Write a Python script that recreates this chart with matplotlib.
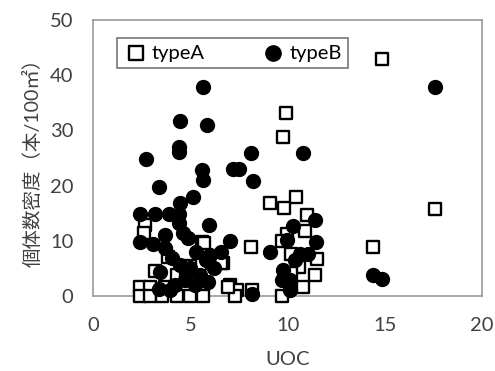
import matplotlib
matplotlib.use("Agg")
from matplotlib import pyplot as plt

plt.rcParams['font.family'] = ['Lato', 'Noto Sans CJK JP', 'DejaVu Sans']

# typeA (open squares)
a_x = [14.84, 17.6, 14.4, 9.9, 9.78, 9.07, 10.44, 9.84, 11.02, 10.9, 9.96, 9.7, 8.1,
       6.7, 11.5, 11.4, 10.8, 9.7, 7.04, 7.4, 8.16, 7.3, 10.2, 10.6, 10.2,
       2.67, 5.59, 3.87, 6.1, 6.6, 4.3, 2.42, 2.93, 3.7, 4.22, 4.82, 5.5,
       2.42, 2.93, 3.53, 4.3, 4.99, 5.67, 6.96, 5.7, 2.6, 4.8, 3.2, 5.0]
a_y = [43, 15.8, 8.8, 33.1, 28.9, 16.8, 17.9, 15.9, 14.7, 11.8, 11.2, 10.0, 8.8,
       5.9, 6.8, 3.8, 1.7, 0, 2.0, 1.1, 1.1, 0, 7.7, 5.3, 4.1,
       12.9, 9.8, 7.1, 5.9, 6.0, 3.8, 1.7, 1.7, 1.7, 1.7, 1.7, 1.7,
       0, 0, 0, 0, 0, 0, 1.7, 9.6, 11.5, 3, 4.5, 5.5]

# typeB (filled circles)
b_x = [5.64, 4.47, 5.85, 4.44, 4.44, 2.71, 5.62, 5.67, 7.2, 7.5, 3.41, 5.16, 4.47,
       2.42, 3.19, 3.91, 4.44, 5.98, 4.44, 2.42, 3.1, 6.6, 8.1, 10.8, 8.2, 7.04,
       9.07, 10.3, 11.4, 11.47, 9.96, 10.64, 11.07, 10.4, 9.78, 9.7, 10.1, 10.1,
       8.16, 17.6, 14.4, 14.84,
       3.7, 4.06, 4.47, 5.0, 3.44, 5.5, 5.24, 3.96, 4.73, 6.0, 6.2,
       4.9, 5.3, 4.6, 3.7, 5.8, 4.2, 3.4, 5.9]
b_y = [37.9, 31.8, 30.9, 27.0, 26.1, 24.8, 22.8, 21.0, 23.0, 23.0, 19.8, 17.9, 16.8,
       14.8, 14.8, 14.8, 14.8, 12.9, 13.2, 9.8, 9.5, 8.0, 26.0, 26.0, 20.9, 10.0,
       7.9, 12.7, 13.8, 9.8, 10.1, 7.7, 7.7, 6.5, 4.7, 2.9, 2.9, 1.1,
       0.3, 37.9, 3.8, 3.0,
       8.7, 6.9, 5.6, 5.1, 4.3, 3.8, 2.0, 1.1, 2.9, 7.4, 5.1,
       10.5, 8.0, 11.5, 11.0, 6.5, 2.0, 1.2, 2.5]

fig = plt.figure(figsize=(4.95, 3.71), dpi=100)
ax = fig.add_axes([0.188, 0.202, 0.786, 0.744])

ax.scatter(a_x, a_y, marker="s", s=85, facecolors="white", edgecolors="black",
           linewidths=1.7, label="typeA", zorder=3, clip_on=False)
ax.scatter(b_x, b_y, marker="o", s=100, color="black", label="typeB", zorder=3,
           clip_on=False)

ax.set_xlim(0, 20)
ax.set_ylim(0, 50)
ax.set_xticks([0, 5, 10, 15, 20])
ax.set_yticks([0, 10, 20, 30, 40, 50])
ax.tick_params(axis="y", length=0, labelsize=14.5, colors="#404040", pad=14)
ax.tick_params(axis="x", length=0, labelsize=14.5, colors="#404040", pad=15)
for s in ax.spines.values():
    s.set_color("#999999")
    s.set_linewidth(1.2)

ax.set_xlabel("UOC", fontsize=14.5, color="#404040", labelpad=12)
ax.set_ylabel("個体数密度（本/100㎡）", fontsize=14, color="#404040", labelpad=6)

leg = ax.legend(loc="upper left", bbox_to_anchor=(0.062, 0.935), ncol=2, fontsize=14.5,
                frameon=True, fancybox=False, edgecolor="#555555",
                handletextpad=0.2, columnspacing=2.8, borderpad=0.32,
                handlelength=1.2, borderaxespad=0, markerscale=1.1)
leg.get_frame().set_linewidth(1.2)

fig.savefig("out.png", dpi=100)
